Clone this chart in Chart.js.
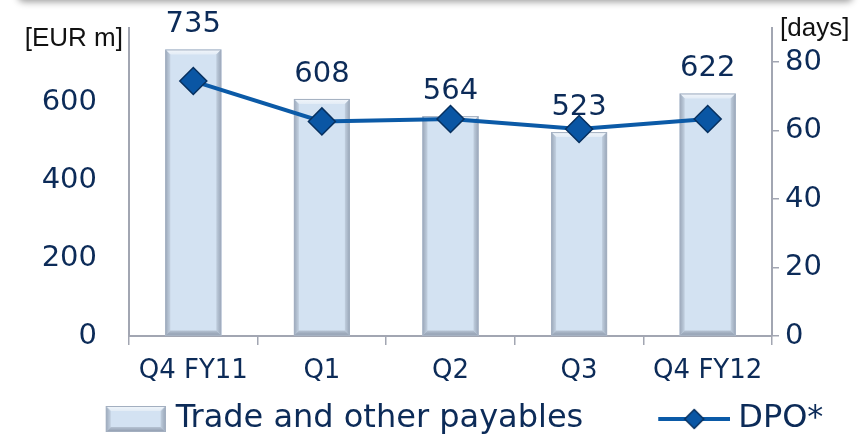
<!DOCTYPE html>
<html><head><meta charset="utf-8">
<script src="https://cdn.jsdelivr.net/npm/chart.js@4/dist/chart.umd.min.js"></script>
<style>
html,body{margin:0;padding:0;background:#fff;}
#wrap{position:relative;width:865px;height:436px;overflow:hidden;background:#fff;}
#shadow{position:absolute;left:18px;right:12px;top:-20px;height:20px;background:#fff;box-shadow:0 2px 7px rgba(0,0,0,0.38);border-radius:6px;}
canvas{position:absolute;left:0;top:0;}
</style></head><body>
<div id="wrap"><div id="shadow"></div><canvas id="c" width="865" height="436"></canvas></div>
<script>
const categories = ['Q4 FY11', 'Q1', 'Q2', 'Q3', 'Q4 FY12'];
const payables = [735, 608, 564, 523, 622];
const dpo = [74.5, 62.7, 63.4, 60.5, 63.4];
const leftTicks = [0, 200, 400, 600];
const rightTicks = [0, 20, 40, 60, 80];
const leftTitle = '[EUR m]';
const rightTitle = '[days]';
const barLabel = 'Trade and other payables';
const lineLabel = 'DPO*';

const NAVY = '#0c2b58';
const AXIS = '#a2a6b2';
const LINE = '#0b5aa7';
const FONT = 'DejaVu Sans';

// legend geometry
const LFS = 32, P = 139, T = P + LFS / 2;
function legendCanvas(cw, ch, gap, drawFn) {
  const R = T - gap;
  const W = Math.round(2 * (R - P / 2));
  const c = document.createElement('canvas');
  c.width = W; c.height = ch;
  const g = c.getContext('2d');
  drawFn(g, W - cw, 0, cw, ch);
  return c;
}
function bevel(ctx, l, t, r, b, e) {
  const w = r - l;
  ctx.fillStyle = '#d3e2f2';
  ctx.fillRect(l, t, w, b - t);
  let g = ctx.createLinearGradient(0, t, 0, t + e);
  g.addColorStop(0, '#f2f6fb'); g.addColorStop(1, '#e3ecf6');
  ctx.fillStyle = g;
  ctx.beginPath(); ctx.moveTo(l, t); ctx.lineTo(r, t); ctx.lineTo(r - e, t + e); ctx.lineTo(l + e, t + e); ctx.closePath(); ctx.fill();
  g = ctx.createLinearGradient(l, 0, l + e, 0);
  g.addColorStop(0, '#9aa7b9'); g.addColorStop(1, '#c3d1e1');
  ctx.fillStyle = g;
  ctx.beginPath(); ctx.moveTo(l, t); ctx.lineTo(l + e, t + e); ctx.lineTo(l + e, b - e); ctx.lineTo(l, b); ctx.closePath(); ctx.fill();
  g = ctx.createLinearGradient(r, 0, r - e, 0);
  g.addColorStop(0, '#98a5b7'); g.addColorStop(1, '#c0cede');
  ctx.fillStyle = g;
  ctx.beginPath(); ctx.moveTo(r, t); ctx.lineTo(r - e, t + e); ctx.lineTo(r - e, b - e); ctx.lineTo(r, b); ctx.closePath(); ctx.fill();
  g = ctx.createLinearGradient(0, b, 0, b - e);
  g.addColorStop(0, '#8d99ab'); g.addColorStop(1, '#b6c3d3');
  ctx.fillStyle = g;
  ctx.beginPath(); ctx.moveTo(l, b); ctx.lineTo(l + e, b - e); ctx.lineTo(r - e, b - e); ctx.lineTo(r, b); ctx.closePath(); ctx.fill();
  ctx.strokeStyle = '#a3afc0'; ctx.lineWidth = 1;
  ctx.strokeRect(l + 0.5, t + 0.5, w - 1, b - t - 1);
}
const barIcon = legendCanvas(60, 26, 10, (g, x, y, w, h) => bevel(g, x, y, x + w, y + h, 5));
const lineIcon = legendCanvas(72, 24, 8, (g, x, y, w, h) => {
  g.strokeStyle = LINE; g.lineWidth = 4;
  g.beginPath(); g.moveTo(x, h / 2); g.lineTo(x + w, h / 2); g.stroke();
  const cx = x + w / 2, cy = h / 2, r = 9.5;
  g.fillStyle = '#0a56a4'; g.strokeStyle = '#07305f'; g.lineWidth = 1.5;
  g.beginPath(); g.moveTo(cx, cy - r); g.lineTo(cx + r, cy); g.lineTo(cx, cy + r); g.lineTo(cx - r, cy); g.closePath(); g.fill(); g.stroke();
});

const decor = {
  id: 'decor',
  afterDatasetDraw(chart, args) {
    if (args.index !== 0) return;
    const ctx = chart.ctx;
    ctx.save();
    args.meta.data.forEach(bar => {
      const p = bar.getProps(['x', 'y', 'base', 'width'], true);
      bevel(ctx, p.x - p.width / 2, p.y, p.x + p.width / 2, p.base, 5);
    });
    ctx.restore();
  },
  afterDatasetsDraw(chart) {
    const ctx = chart.ctx;
    const ca = chart.chartArea;
    ctx.save();
    ctx.fillStyle = NAVY;
    ctx.font = '29px "' + FONT + '"';
    ctx.textAlign = 'center';
    ctx.textBaseline = 'alphabetic';
    chart.getDatasetMeta(0).data.forEach((bar, i) => {
      ctx.fillText(String(payables[i]), bar.x, bar.y - 17);
    });
    ctx.fillStyle = '#111';
    ctx.font = '26px "Liberation Sans"';
    ctx.textAlign = 'right';
    ctx.fillText(leftTitle, ca.left - 6, ca.top + 18);
    ctx.textAlign = 'left';
    ctx.fillText(rightTitle, ca.right + 8, ca.top + 8);
    ctx.restore();
  }
};

new Chart(document.getElementById('c'), {
  type: 'bar',
  data: {
    labels: categories,
    datasets: [
      {
        type: 'bar', label: barLabel, data: payables, yAxisID: 'y',
        backgroundColor: '#d3e2f2', borderWidth: 0,
        barPercentage: 0.435, categoryPercentage: 1, order: 1
      },
      {
        type: 'line', label: lineLabel, data: dpo, yAxisID: 'y1',
        borderColor: LINE, borderWidth: 4, tension: 0,
        pointStyle: 'rectRot', pointRadius: 13.5, pointHoverRadius: 13.5,
        pointBackgroundColor: '#0a56a4', pointBorderColor: '#07305f', pointBorderWidth: 1.5,
        order: 0
      }
    ]
  },
  options: {
    responsive: false,
    animation: false,
    devicePixelRatio: 1,
    layout: { padding: { left: 0, right: 21, top: 28, bottom: -9 } },
    plugins: {
      tooltip: { enabled: false },
      legend: {
        position: 'bottom',
        labels: {
          font: { family: FONT, size: LFS },
          color: NAVY,
          usePointStyle: true,
          pointStyleWidth: P,
          padding: 0,
          generateLabels: () => [
            { text: barLabel, pointStyle: barIcon, fontColor: NAVY, lineWidth: 0, strokeStyle: 'transparent', fillStyle: 'transparent', datasetIndex: 0 },
            { text: lineLabel, pointStyle: lineIcon, fontColor: NAVY, lineWidth: 0, strokeStyle: 'transparent', fillStyle: 'transparent', datasetIndex: 1 }
          ]
        }
      }
    },
    scales: {
      x: {
        offset: true,
        grid: { offset: true, drawOnChartArea: false, drawTicks: true, tickLength: 9, color: AXIS, lineWidth: 1.5 },
        border: { display: true, color: AXIS, width: 2 },
        ticks: { font: { family: FONT, size: 26 }, color: NAVY, padding: 11, maxRotation: 0 },
        afterFit: s => { s.height = 67; }
      },
      y: {
        position: 'left', min: 0, max: 790,
        afterBuildTicks: s => { s.ticks = leftTicks.map(v => ({ value: v })); },
        grid: { drawOnChartArea: false, drawTicks: false },
        border: { display: true, color: AXIS, width: 2 },
        ticks: { font: { family: FONT, size: 29 }, color: NAVY, padding: 32 },
        afterFit: s => { s.width = 129; s.paddingTop = 0; s.paddingBottom = 0; }
      },
      y1: {
        position: 'right', min: 0, max: 90,
        afterBuildTicks: s => { s.ticks = rightTicks.map(v => ({ value: v })); },
        grid: { drawOnChartArea: false, drawTicks: true, tickLength: 7, color: AXIS, lineWidth: 1.5 },
        border: { display: true, color: AXIS, width: 2 },
        ticks: { font: { family: FONT, size: 29 }, color: NAVY, padding: 6 },
        afterFit: s => { s.width = 72; s.paddingTop = 0; s.paddingBottom = 0; }
      }
    }
  },
  plugins: [decor]
});
</script>
</body></html>
